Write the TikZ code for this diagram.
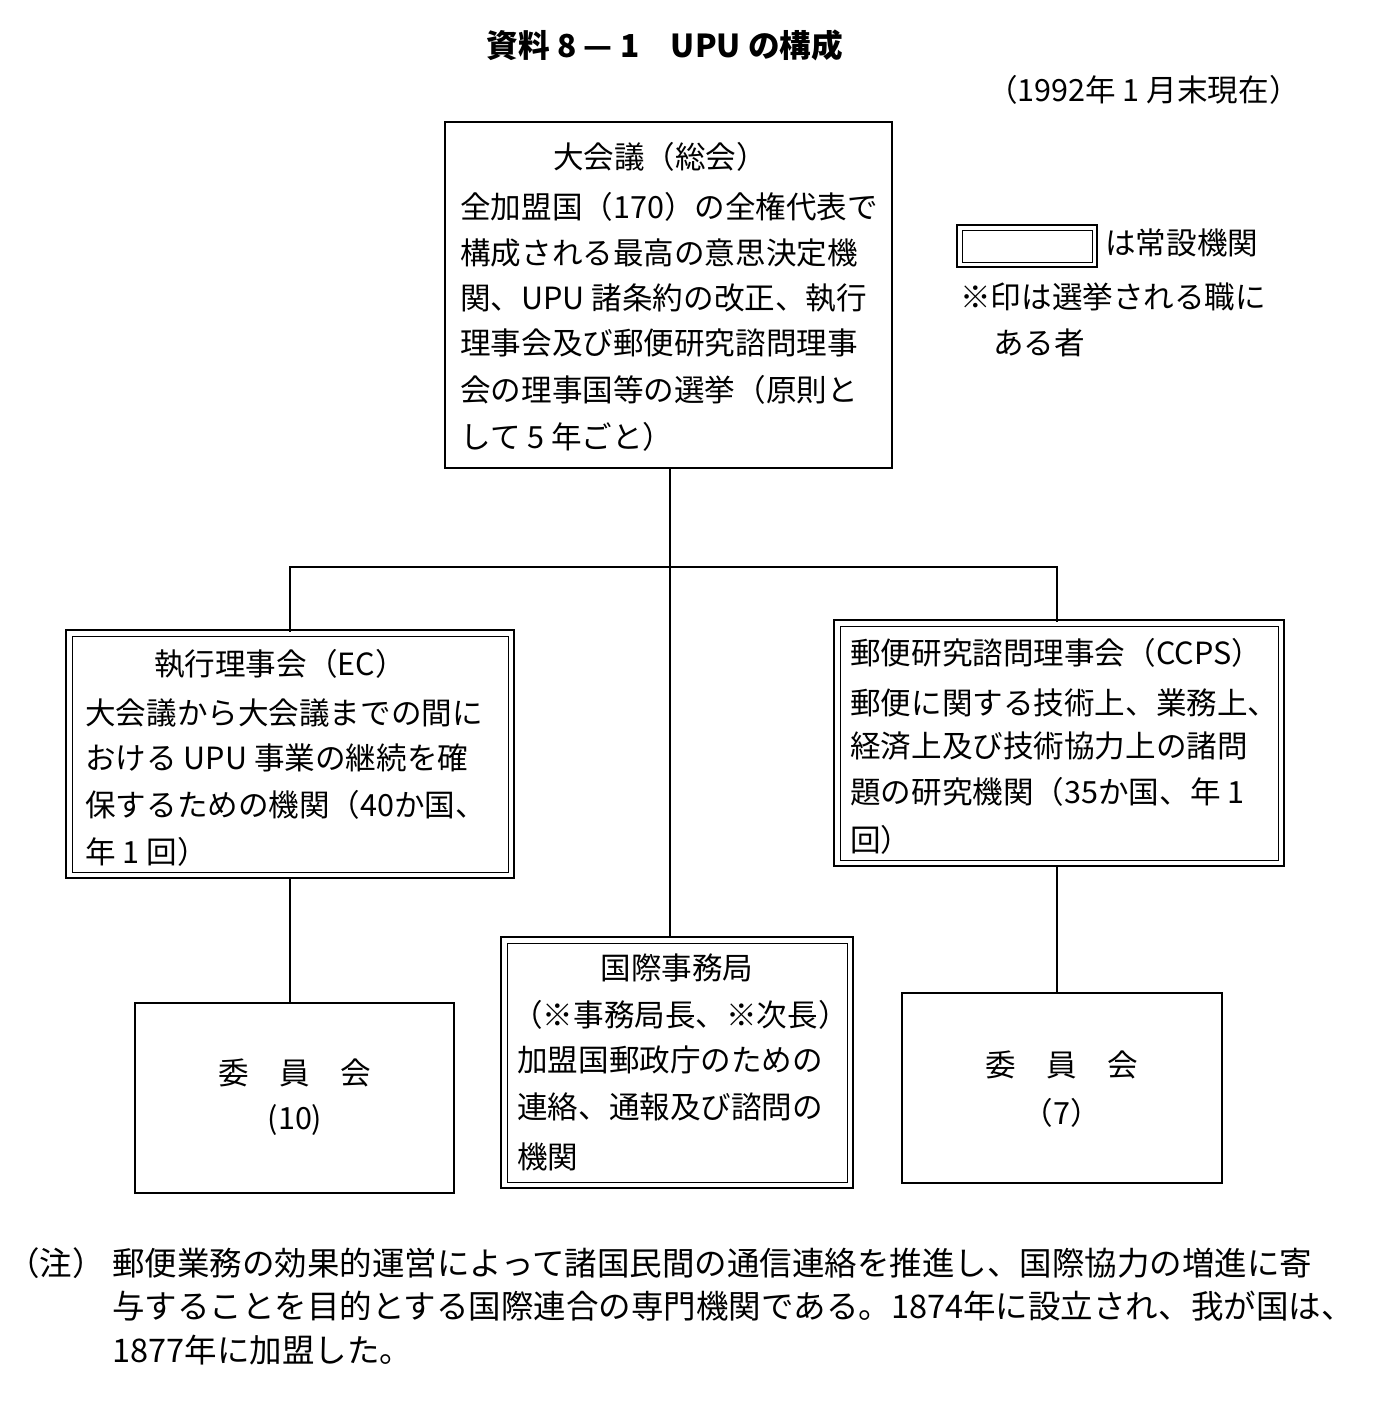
\documentclass[tikz,border=0pt]{standalone}
\usepackage{fontspec}
\setmainfont{Noto Sans CJK JP}
\begin{document}
\begin{tikzpicture}[x=0.02cm,y=-0.02cm,
  t/.style={anchor=west,inner sep=0pt,font=\fontsize{17.4pt}{18pt}\selectfont},
  c/.style={inner sep=0pt,font=\fontsize{17.4pt}{18pt}\selectfont},
  n/.style={anchor=west,inner sep=0pt,font=\fontsize{18.5pt}{20pt}\selectfont},
  ln/.style={line width=1.2pt}]
\useasboundingbox (0,0) rectangle (1389,1421);
\node[c,font=\fontsize{18pt}{20pt}\selectfont\bfseries] (title) at (665,45) {資料 8 — 1　UPU の構成};
\node[c,anchor=east] (date) at (1300,90) {（1992年 1 月末現在）};
% top box
\draw[ln] (445,122) rectangle (892,468);
\node[c] (top) at (660,157) {大会議（総会）};
\node[t] at (460,207) {全加盟国（170）の全権代表で};
\node[t] at (460,253) {構成される最高の意思決定機};
\node[t] at (460,298) {関、UPU 諸条約の改正、執行};
\node[t] at (460,343) {理事会及び郵便研究諮問理事};
\node[t] at (460,390) {会の理事国等の選挙（原則と};
\node[t] at (460,437) {して 5 年ごと）};
% legend
\draw[ln] (957,225) rectangle (1097,267);
\draw (962,230) rectangle (1092,262);
\node[t] at (1105,243) {は常設機関};
\node[t] at (960,297) {※印は選挙される職に};
\node[t] at (993,343) {ある者};
% connectors
\coordinate (a) at (670,468);
\coordinate (b) at (670,937);
\draw[ln] (a) -- (b);
\draw[ln] (290,632) -- (290,567) -- (1057,567) -- (1057,622);
% EC
\draw[ln] (66,630) rectangle (514,878);
\draw (72,636) rectangle (508,872);
\node[c] at (280,664) {執行理事会（EC）};
\node[t] at (85,713) {大会議から大会議までの間に};
\node[t] at (85,758) {おける UPU 事業の継続を確};
\node[t] at (85,805) {保するための機関（40か国、};
\node[t] at (85,852) {年 1 回）};
\draw[ln] (290,878) -- (290,1003);
\draw[ln] (135,1003) rectangle (454,1193);
\node[c] at (295,1073) {委　員　会};
\node[c] at (295,1120) {(10)};
% center
\draw[ln] (501,937) rectangle (853,1188);
\draw (507,943) rectangle (847,1182);
\node[c] at (677,968) {国際事務局};
\node[t] at (512,1015) {（※事務局長、※次長）};
\node[t] at (517,1060) {加盟国郵政庁のための};
\node[t] at (517,1107) {連絡、通報及び諮問の};
\node[t] at (517,1157) {機関};
% CCPS
\draw[ln] (834,620) rectangle (1284,866);
\draw (840,626) rectangle (1278,860);
\node[t] at (850,653) {郵便研究諮問理事会（CCPS）};
\node[t] at (850,703) {郵便に関する技術上、業務上、};
\node[t] at (850,746) {経済上及び技術協力上の諸問};
\node[t] at (850,792) {題の研究機関（35か国、年 1};
\node[t] at (850,840) {回）};
\draw[ln] (1057,866) -- (1057,993);
\draw[ln] (902,993) rectangle (1222,1183);
\node[c] at (1062,1065) {委　員　会};
\node[c] at (1062,1113) {（7）};
% note
\node[n,anchor=east] at (105,1263) {（注）};
\node[n] at (112,1263) {郵便業務の効果的運営によって諸国民間の通信連絡を推進し、国際協力の増進に寄};
\node[n] at (112,1306) {与することを目的とする国際連合の専門機関である。1874年に設立され、我が国は、};
\node[n] at (112,1350) {1877年に加盟した。};
\end{tikzpicture}
\end{document}
